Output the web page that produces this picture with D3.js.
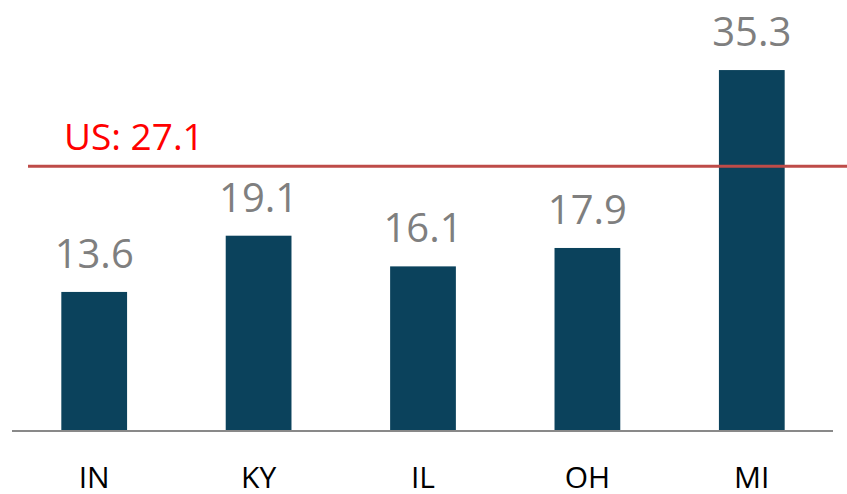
<!DOCTYPE html>
<html>
<head>
<meta charset="utf-8">
<script src="https://cdn.jsdelivr.net/npm/d3@7"></script>
<style>
  html, body { margin: 0; padding: 0; background: #fff; }
  svg { display: block; }
  text { font-family: "Open Sans", "Noto Sans", sans-serif; }
</style>
</head>
<body>
<svg id="chart" width="847" height="494"></svg>
<script>
const categories = ["IN", "KY", "IL", "OH", "MI"];
const values = [13.6, 19.1, 16.1, 17.9, 35.3];
const usLabel = "US: 27.1";
const usLineLevel = 25.9; // level at which the reference line is drawn in the picture

const width = 847, height = 494;
const svg = d3.select("#chart");

const x = d3.scaleBand()
  .domain(categories)
  .range([12, 834])
  .paddingInner(0.6)
  .paddingOuter(0.3);

const y = d3.scaleLinear()
  .domain([0, 40])
  .range([431, 22]);

// bars
svg.append("g").selectAll("rect")
  .data(categories)
  .join("rect")
  .attr("x", d => x(d))
  .attr("y", (d, i) => y(values[i]))
  .attr("width", x.bandwidth())
  .attr("height", (d, i) => y(0) - y(values[i]))
  .attr("fill", "#0b425c");

// value labels
svg.append("g").selectAll("text")
  .data(categories)
  .join("text")
  .attr("x", d => x(d) + x.bandwidth() / 2)
  .attr("y", (d, i) => y(values[i]) - 24)
  .attr("text-anchor", "middle")
  .attr("font-size", 40)
  .attr("fill", "#7f7f7f")
  .text((d, i) => values[i].toFixed(1));

// x axis
const xAxis = svg.append("g")
  .attr("transform", `translate(0,${y(0)})`)
  .call(d3.axisBottom(x).tickSize(0).tickPadding(0));
xAxis.select(".domain").remove();
xAxis.selectAll("text")
  .attr("dy", null)
  .attr("y", 57)
  .attr("font-size", 30)
  .attr("font-family", "'Open Sans', sans-serif")
  .attr("fill", "#000");

svg.append("line")
  .attr("x1", 12).attr("x2", 833)
  .attr("y1", y(0)).attr("y2", y(0))
  .attr("stroke", "#898989")
  .attr("stroke-width", 2);

// US reference line
svg.append("line")
  .attr("x1", 28).attr("x2", width)
  .attr("y1", y(usLineLevel)).attr("y2", y(usLineLevel))
  .attr("stroke", "#be4b48")
  .attr("stroke-width", 3);

svg.append("text")
  .attr("x", 64)
  .attr("y", y(usLineLevel) - 16)
  .attr("font-size", 37)
  .attr("fill", "#ff0000")
  .text(usLabel);
</script>
</body>
</html>
